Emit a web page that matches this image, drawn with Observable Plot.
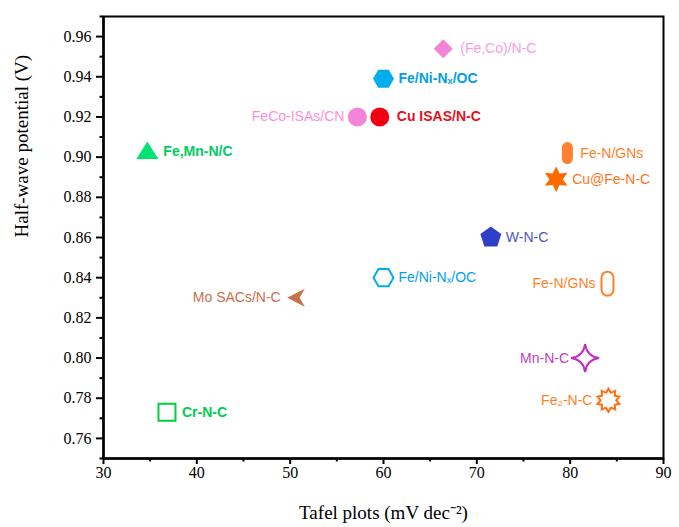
<!DOCTYPE html>
<html><head><meta charset="utf-8">
<script src="https://cdn.jsdelivr.net/npm/d3@7"></script>
<script src="https://cdn.jsdelivr.net/npm/@observablehq/plot@0.6"></script>
<style>body{margin:0;background:#fff}#chart svg{display:block}</style>
</head><body><div id="chart"></div>
<script>
// ---- data ----
const catalysts = ["(Fe,Co)/N-C","Fe/Ni-Nₓ/OC","FeCo-ISAs/CN","Cu ISAS/N-C","Fe,Mn-N/C","Fe-N/GNs","Cu@Fe-N-C","W-N-C","Fe/Ni-Nₓ/OC","Mo SACs/N-C","Fe-N/GNs","Mn-N-C","Fe₂-N-C","Cr-N-C"];
const tafel     = [66.4, 60.0, 57.2, 59.6, 34.7, 79.7, 78.5, 71.5, 60.0, 50.7, 84.0, 81.6, 84.1, 36.8];
const potential = [0.954, 0.939, 0.920, 0.920, 0.903, 0.902, 0.889, 0.860, 0.840, 0.830, 0.837, 0.800, 0.779, 0.773];
const xTicks = [30, 40, 50, 60, 70, 80, 90];
const xMinor = [35, 45, 55, 65, 75, 85];
const yTicks = [0.76, 0.78, 0.80, 0.82, 0.84, 0.86, 0.88, 0.90, 0.92, 0.94, 0.96];
const yMinor = [0.75, 0.77, 0.79, 0.81, 0.83, 0.85, 0.87, 0.89, 0.91, 0.93, 0.95, 0.97];

// ---- custom symbols ----
const poly = (pts) => ({draw(ctx, size){const R=Math.sqrt(size/Math.PI);pts.forEach(([a,b],k)=>k?ctx.lineTo(a*R,b*R):ctx.moveTo(a*R,b*R));ctx.closePath();}});
const ngon = (n, rot) => poly(d3.range(n).map(k=>{const t=rot+k*2*Math.PI/n;return [Math.cos(t),Math.sin(t)];}));
const star = (n, inner, rot) => poly(d3.range(2*n).map(k=>{const t=rot+k*Math.PI/n;const q=k%2?inner:1;return [q*Math.cos(t),q*Math.sin(t)];}));
const diamondSym = poly([[0,-1],[1,0],[0,1],[-1,0]]);
const triangleSym = poly([[0,-0.95],[1.1,0.8],[-1.1,0.8]]);
const hexSym = ngon(6, 0);
const pentSym = ngon(5, -Math.PI/2);
const squareSym = poly([[-1,-1],[1,-1],[1,1],[-1,1]]);
const chevronSym = poly([[-1,0],[0.85,-0.95],[0.3,0],[0.85,0.95]]);
const star6Sym = star(6, 0.52, -Math.PI/2);
const star4Sym = {draw(ctx,size){const R=Math.sqrt(size/Math.PI);const c=0.12*R;
  ctx.moveTo(0,-R);ctx.quadraticCurveTo(c,-c,R,0);ctx.quadraticCurveTo(c,c,0,R);ctx.quadraticCurveTo(-c,c,-R,0);ctx.quadraticCurveTo(-c,-c,0,-R);ctx.closePath();}};
const burstSym = star(10, 0.68, -Math.PI/2);
const pillSym = {draw(ctx,size){const R=Math.sqrt(size/Math.PI);const w=0.5*R,h=R;
  ctx.moveTo(-w,-h+w);ctx.arc(0,-h+w,w,Math.PI,0);ctx.lineTo(w,h-w);ctx.arc(0,h-w,w,0,Math.PI);ctx.closePath();}};
const circleSym = {draw(ctx,size){const R=Math.sqrt(size/Math.PI);ctx.moveTo(R,0);ctx.arc(0,0,R,0,2*Math.PI);}};

// ---- styles (per point, parallel to the data) ----
const styles = [
  {sym: diamondSym, r: 9.5, fill: "#f284d8", text: "#f79ee2", dx: 17, w: "normal"},
  {sym: hexSym, r: 10.5, fill: "#00aeef", text: "#00a0e8", dx: 15, w: "bold"},
  {sym: circleSym, r: 9.5, fill: "#f484d8", text: "#ff8ce0", dx: -13, w: "normal"},
  {sym: circleSym, r: 9.5, fill: "#f00010", text: "#e8101e", dx: 17, w: "bold"},
  {sym: triangleSym, r: 10, fill: "#00e272", text: "#00cc62", dx: 16, w: "bold"},
  {sym: pillSym, r: 11, fill: "#ff8030", text: "#ff7f27", dx: 13, w: "normal"},
  {sym: star6Sym, r: 13, fill: "#ff6a00", text: "#ff7420", dx: 16, w: "normal"},
  {sym: pentSym, r: 11, fill: "#2f3fc8", text: "#4a55c8", dx: 15, w: "normal"},
  {sym: hexSym, r: 10, stroke: "#00aeef", text: "#00a0e8", dx: 15, w: "normal"},
  {sym: chevronSym, r: 9.5, fill: "#c8704c", text: "#c8704c", dx: -16, w: "normal"},
  {sym: pillSym, r: 12, stroke: "#ff7f27", text: "#ff7f27", dx: -12, w: "normal"},
  {sym: star4Sym, r: 14, stroke: "#c030c0", text: "#c040c0", dx: -16, w: "normal"},
  {sym: burstSym, r: 11.5, stroke: "#ff7014", text: "#ff7f27", dx: -16, w: "normal"},
  {sym: squareSym, r: 8.5, stroke: "#00d040", text: "#00cc50", dx: 15, w: "bold"}
];

const idx = d3.range(catalysts.length);
const marks = [];
idx.forEach(i => {
  const s = styles[i];
  marks.push(Plot.dot([i], {x: j => tafel[j], y: j => potential[j], symbol: s.sym, r: s.r,
    fill: s.fill || "none", stroke: s.stroke || "none", strokeWidth: s.stroke ? 2 : 0}));
  marks.push(Plot.text([i], {x: j => tafel[j], y: j => potential[j], text: j => catalysts[j],
    dx: s.dx, textAnchor: s.dx < 0 ? "end" : "start", fill: s.text, fontSize: 14,
    fontWeight: s.w, fontFamily: "Liberation Sans, Arial, sans-serif"}));
});

const chart = Plot.plot({
  width: 679, height: 527,
  marginLeft: 103, marginRight: 16, marginTop: 16, marginBottom: 69,
  style: {fontFamily: "Liberation Serif, Times New Roman, serif", background: "#fff", color: "#000"},
  x: {domain: [30, 90]},
  y: {domain: [0.75, 0.97]},
  marks: [
    Plot.frame({stroke: "#000", strokeWidth: 2}),
    Plot.axisY({ticks: yMinor, tickSize: 3.5, tickFormat: () => "", label: null, strokeWidth: 2}),
    Plot.axisY({ticks: yTicks, tickSize: 7, tickPadding: 5, tickFormat: d3.format(".2f"), fontSize: 16, label: null, strokeWidth: 2}),
    Plot.axisX({ticks: xMinor, tickSize: 3.5, tickFormat: () => "", label: null, strokeWidth: 2}),
    Plot.axisX({ticks: xTicks, tickSize: 6, tickPadding: 2, tickFormat: d3.format("d"), fontSize: 16, label: null, strokeWidth: 2}),
    Plot.ruleX([30], {stroke: "#000", strokeWidth: 2.5}),
    Plot.ruleY([0.75], {stroke: "#000", strokeWidth: 2.5}),
    Plot.text(["Half-wave potential (V)"], {frameAnchor: "left", dx: -82, rotate: -90, fontSize: 19, fill: "#000"}),
    Plot.text(["Tafel plots (mV dec⁻²)"], {frameAnchor: "bottom", dy: 60, fontSize: 19, fill: "#000"}),
    ...marks
  ]
});
document.getElementById("chart").appendChild(chart);
</script>
</body></html>
